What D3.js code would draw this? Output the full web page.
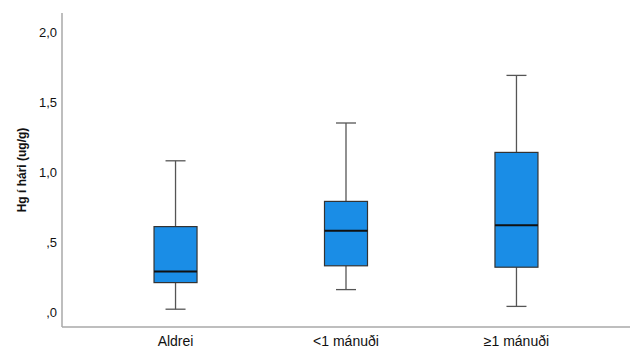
<!DOCTYPE html>
<html><head><meta charset="utf-8">
<script src="https://cdn.jsdelivr.net/npm/d3@7"></script>
<style>body{margin:0;background:#fff}svg{display:block}</style>
</head><body>
<script>
const categories = ["Aldrei", "<1 mánuði", "≥1 mánuði"];
const whiskerLow = [0.02, 0.16, 0.04];
const q1 = [0.21, 0.33, 0.32];
const median = [0.29, 0.58, 0.62];
const q3 = [0.61, 0.79, 1.14];
const whiskerHigh = [1.08, 1.35, 1.69];
const yTicks = [0, 0.5, 1.0, 1.5, 2.0];
const yTickLabels = [",0", ",5", "1,0", "1,5", "2,0"];
const yLabel = "Hg í hári (ug/g)";

const W = 641, H = 350;
const svg = d3.select("body").append("svg").attr("width", W).attr("height", H);
const x = d3.scalePoint().domain(categories).range([62, 630]).padding(0.666);
const y = d3.scaleLinear().domain([0, 2.0]).range([312, 32]);
const yBottom = 327, yTop = 13;
const boxW = 43, capW = 20;

// axes lines
svg.append("line").attr("x1", 62).attr("x2", 62).attr("y1", yTop).attr("y2", yBottom)
  .attr("stroke", "#a8a8a8").attr("stroke-width", 1.5);
svg.append("line").attr("x1", 62).attr("x2", 630).attr("y1", yBottom).attr("y2", yBottom)
  .attr("stroke", "#a8a8a8").attr("stroke-width", 1.5);

// y tick labels
svg.selectAll(".yt").data(yTicks).enter().append("text")
  .attr("x", 57).attr("y", d => y(d)).attr("dy", "0.35em")
  .attr("text-anchor", "end").attr("font-family", "Arial, Liberation Sans, sans-serif")
  .attr("font-size", 13).attr("fill", "#111").text((d, i) => yTickLabels[i]);

// y label
svg.append("text").attr("transform", `translate(22,${(yTop + yBottom) / 2}) rotate(-90)`)
  .attr("text-anchor", "middle").attr("dy", "0.35em")
  .attr("font-family", "Arial, Liberation Sans, sans-serif").attr("font-size", 12)
  .attr("font-weight", "bold").attr("fill", "#111").text(yLabel);

// x labels
svg.selectAll(".xl").data(categories).enter().append("text")
  .attr("x", d => x(d)).attr("y", 341).attr("dy", "0.35em").attr("text-anchor", "middle")
  .attr("font-family", "Arial, Liberation Sans, sans-serif").attr("font-size", 14)
  .attr("fill", "#111").text(d => d);

const g = svg.selectAll(".box").data(categories).enter().append("g");
const wc = "#555";
// whiskers
g.append("line").attr("x1", d => x(d)).attr("x2", d => x(d))
  .attr("y1", (d, i) => y(whiskerHigh[i])).attr("y2", (d, i) => y(q3[i]))
  .attr("stroke", wc).attr("stroke-width", 1.3);
g.append("line").attr("x1", d => x(d)).attr("x2", d => x(d))
  .attr("y1", (d, i) => y(q1[i])).attr("y2", (d, i) => y(whiskerLow[i]))
  .attr("stroke", wc).attr("stroke-width", 1.3);
g.append("line").attr("x1", d => x(d) - capW / 2).attr("x2", d => x(d) + capW / 2)
  .attr("y1", (d, i) => y(whiskerHigh[i])).attr("y2", (d, i) => y(whiskerHigh[i]))
  .attr("stroke", wc).attr("stroke-width", 1.3);
g.append("line").attr("x1", d => x(d) - capW / 2).attr("x2", d => x(d) + capW / 2)
  .attr("y1", (d, i) => y(whiskerLow[i])).attr("y2", (d, i) => y(whiskerLow[i]))
  .attr("stroke", wc).attr("stroke-width", 1.3);
// boxes
g.append("rect").attr("x", d => x(d) - boxW / 2).attr("width", boxW)
  .attr("y", (d, i) => y(q3[i])).attr("height", (d, i) => y(q1[i]) - y(q3[i]))
  .attr("fill", "#1a8de6").attr("stroke", "#333").attr("stroke-width", 1.2);
// median
g.append("line").attr("x1", d => x(d) - boxW / 2).attr("x2", d => x(d) + boxW / 2)
  .attr("y1", (d, i) => y(median[i])).attr("y2", (d, i) => y(median[i]))
  .attr("stroke", "#111").attr("stroke-width", 2);
</script>
</body></html>
